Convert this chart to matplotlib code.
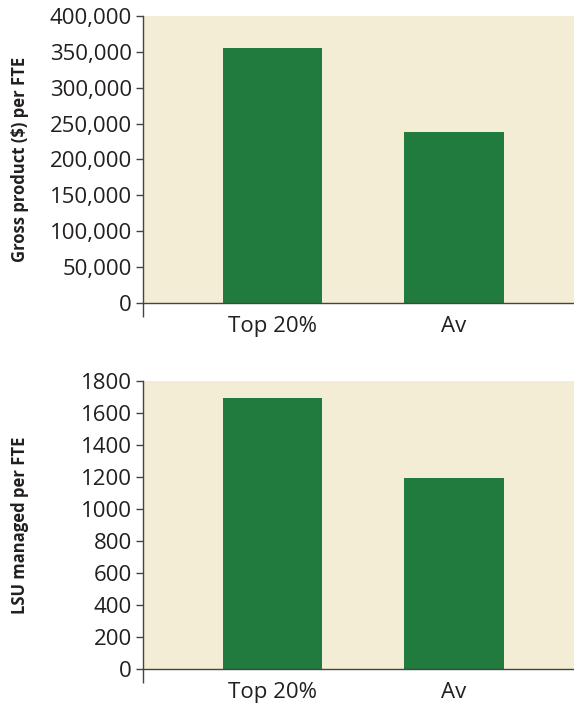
import matplotlib
matplotlib.use('Agg')
from matplotlib import pyplot as plt
from matplotlib.ticker import FuncFormatter

plt.rcParams['font.family'] = ['Open Sans', 'DejaVu Sans']

categories = ['Top 20%', 'Av']
gross_product = [355000, 238000]
lsu_managed = [1690, 1190]

bg = '#F3EDD6'
green = '#217A3E'
axis_col = '#444444'
text_col = '#231F20'

fig = plt.figure(figsize=(5.74, 7.04), dpi=100)
ax1 = fig.add_axes([0.249, 0.5696, 0.751, 0.4077])
ax2 = fig.add_axes([0.249, 0.0493, 0.751, 0.4100])


def style(ax, values, ymax, step, ylabel, fmt):
    x = range(len(categories))
    ax.bar(x, values, width=0.545, color=green, zorder=2)
    ax.set_facecolor(bg)
    ax.set_xlim(-0.71, 1.66)
    ax.set_ylim(0, ymax)
    ax.set_yticks(range(0, ymax + 1, step))
    ax.yaxis.set_major_formatter(FuncFormatter(fmt))
    ax.set_xticks(list(x))
    ax.set_xticklabels(categories)
    ax.set_xticks([-0.71], minor=True)
    ax.tick_params(axis='x', which='major', length=0, pad=9, labelsize=16, labelcolor=text_col)
    ax.tick_params(axis='x', which='minor', length=10, width=1, color=axis_col, direction='out')
    ax.tick_params(axis='y', length=5, width=1, color=axis_col, labelsize=16, labelcolor=text_col, pad=3)
    for s in ['top', 'right']:
        ax.spines[s].set_visible(False)
    for s in ['left', 'bottom']:
        ax.spines[s].set_color(axis_col)
        ax.spines[s].set_linewidth(1)
    ax.set_ylabel(ylabel, fontsize=12, fontweight='bold', color=text_col)
    ax.yaxis.set_label_coords(-0.265, 0.5)


style(ax1, gross_product, 400000, 50000, 'Gross product ($) per FTE', lambda v, p: f'{int(v):,}')
style(ax2, lsu_managed, 1800, 200, 'LSU managed per FTE', lambda v, p: f'{int(v)}')

fig.savefig('out.png', dpi=100)
